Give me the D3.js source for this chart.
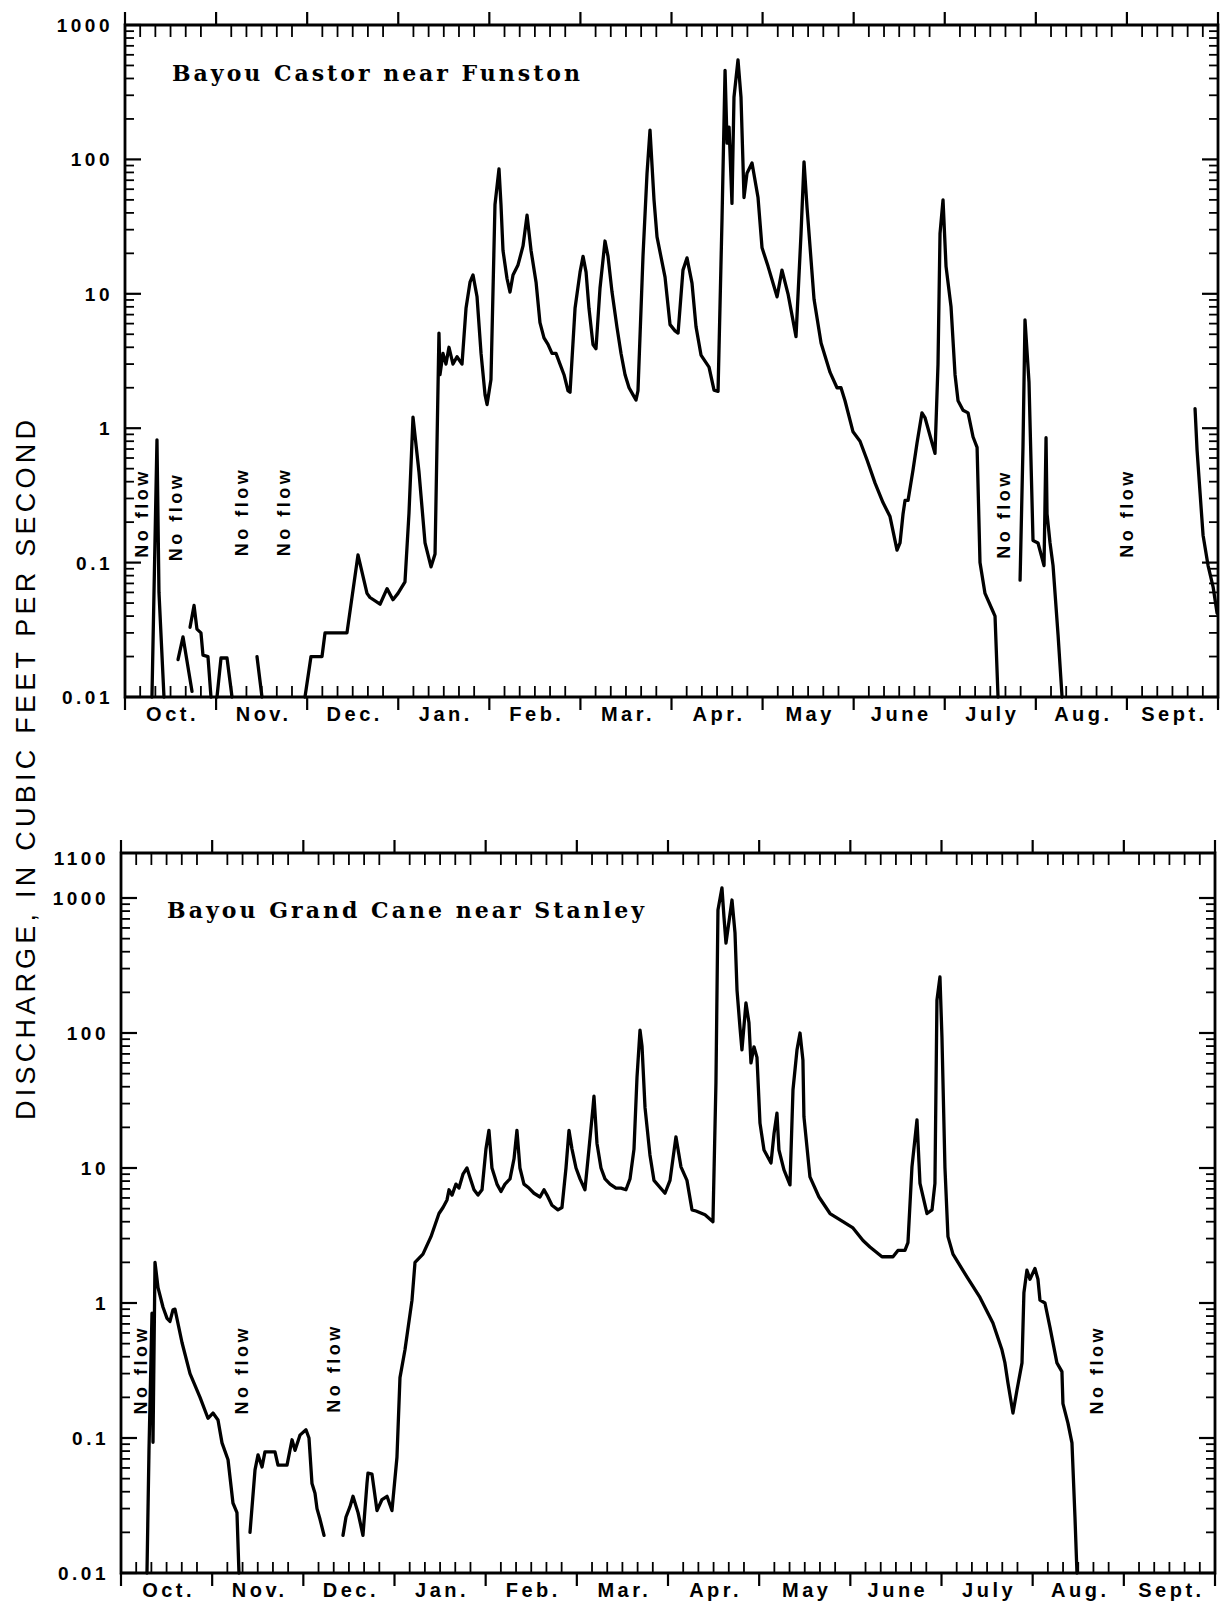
<!DOCTYPE html>
<html><head><meta charset="utf-8">
<script src="https://cdn.jsdelivr.net/npm/d3@7"></script>
<style>body{margin:0;background:#fff}svg{display:block}</style>
</head><body><svg id="c" width="1229" height="1608"></svg>
<script>
// ---------- DATA ----------
// x values: months since Oct 1 (water year, months drawn equal width); y: discharge, cfs
const months = ["Oct.","Nov.","Dec.","Jan.","Feb.","Mar.","Apr.","May","June","July","Aug.","Sept."];
const yTicks = [0.01,0.1,1,10,100,1000];
const yTickLabels = ["0.01","0.1","1","10","100","1000"];
const caneTopLabel = "1100";
const axisTitle = "DISCHARGE, IN CUBIC FEET PER SECOND";
const castorTitle = "Bayou Castor near Funston";
const caneTitle = "Bayou Grand Cane near Stanley";

const castorSegments = [
  [[0.296,0.01],[0.351,0.82],[0.373,0.06],[0.428,0.01]],
  [[0.582,0.019],[0.637,0.028],[0.736,0.011]],
  [[0.714,0.033],[0.758,0.048],[0.790,0.032],[0.834,0.030],[0.856,0.0205],[0.911,0.020],[0.944,0.01]],
  [[1.010,0.01],[1.054,0.0195],[1.120,0.0195],[1.175,0.01]],
  [[1.449,0.02],[1.504,0.01]],
  [[1.976,0.01],[2.042,0.02],[2.163,0.02],[2.196,0.03],[2.437,0.03],[2.558,0.114],[2.657,0.059],[2.690,0.055],[2.800,0.049],[2.877,0.064],[2.942,0.053],[2.997,0.059],[3.074,0.072],[3.118,0.234],[3.162,1.21],[3.228,0.47],[3.294,0.14],[3.360,0.093],[3.404,0.116],[3.447,5.1],[3.458,2.5],[3.491,3.6],[3.524,3.0],[3.557,4.0],[3.601,3.0],[3.645,3.4],[3.700,3.0],[3.744,7.8],[3.788,12.2],[3.821,13.8],[3.865,9.5],[3.909,3.6],[3.953,1.77],[3.975,1.5],[4.018,2.3],[4.062,46],[4.106,85],[4.128,46],[4.150,21],[4.194,13],[4.227,10.3],[4.260,13.8],[4.315,16.4],[4.370,22.7],[4.414,38.5],[4.458,21],[4.513,12.2],[4.556,6.1],[4.600,4.7],[4.644,4.2],[4.688,3.6],[4.732,3.6],[4.776,3.0],[4.820,2.5],[4.864,1.9],[4.886,1.85],[4.941,7.8],[4.996,14.5],[5.029,19],[5.062,14.5],[5.094,7.8],[5.138,4.2],[5.171,3.9],[5.215,11],[5.270,24.7],[5.303,19],[5.347,10.3],[5.402,5.6],[5.446,3.6],[5.490,2.5],[5.534,2.0],[5.578,1.77],[5.610,1.62],[5.632,1.9],[5.687,19],[5.731,78],[5.764,165],[5.808,50],[5.841,26.5],[5.929,13.3],[5.984,5.9],[6.039,5.3],[6.072,5.1],[6.126,15],[6.170,18.5],[6.225,12],[6.269,5.7],[6.324,3.5],[6.412,2.85],[6.467,1.92],[6.511,1.88],[6.555,37],[6.588,460],[6.610,132],[6.632,174],[6.664,47],[6.686,290],[6.730,550],[6.763,290],[6.796,52],[6.829,79],[6.884,94],[6.950,52],[6.994,22],[7.060,16],[7.159,9.5],[7.213,15],[7.279,10],[7.367,4.8],[7.422,28],[7.455,96],[7.488,44],[7.565,9.1],[7.642,4.3],[7.741,2.6],[7.817,2.0],[7.861,2.0],[7.905,1.6],[7.993,0.94],[8.070,0.8],[8.147,0.58],[8.235,0.39],[8.322,0.28],[8.399,0.22],[8.476,0.124],[8.509,0.14],[8.542,0.23],[8.564,0.29],[8.597,0.29],[8.652,0.49],[8.696,0.78],[8.750,1.3],[8.783,1.2],[8.860,0.78],[8.893,0.65],[8.926,3.0],[8.948,28],[8.981,50],[9.014,16],[9.069,8],[9.113,2.5],[9.146,1.6],[9.201,1.36],[9.256,1.3],[9.311,0.86],[9.355,0.72],[9.387,0.1],[9.442,0.059],[9.519,0.045],[9.552,0.040],[9.585,0.01]],
  [[9.827,0.074],[9.859,0.73],[9.881,6.4],[9.925,2.2],[9.969,0.146],[10.024,0.14],[10.090,0.095],[10.112,0.85],[10.123,0.23],[10.156,0.14],[10.189,0.095],[10.244,0.029],[10.288,0.01]],
  [[11.748,1.4],[11.770,0.69],[11.803,0.33],[11.836,0.16],[11.891,0.095],[11.946,0.066],[11.990,0.042]]
];

const caneSegments = [
  [[0.285,0.01],[0.307,0.081],[0.340,0.84],[0.351,0.093],[0.373,2.0],[0.406,1.3],[0.461,0.93],[0.505,0.77],[0.537,0.73],[0.570,0.89],[0.592,0.9],[0.669,0.51],[0.757,0.30],[0.867,0.20],[0.954,0.14],[1.009,0.153],[1.064,0.136],[1.108,0.092],[1.174,0.069],[1.228,0.033],[1.272,0.028],[1.294,0.01]],
  [[1.415,0.020],[1.470,0.058],[1.503,0.075],[1.547,0.061],[1.579,0.079],[1.689,0.079],[1.722,0.063],[1.821,0.063],[1.876,0.097],[1.909,0.081],[1.963,0.105],[2.029,0.115],[2.062,0.10],[2.095,0.046],[2.128,0.039],[2.150,0.030],[2.183,0.025],[2.227,0.019]],
  [[2.435,0.019],[2.468,0.026],[2.512,0.031],[2.545,0.037],[2.600,0.028],[2.654,0.019],[2.698,0.046],[2.709,0.055],[2.753,0.054],[2.808,0.029],[2.863,0.035],[2.918,0.037],[2.972,0.029],[3.027,0.072],[3.060,0.28],[3.115,0.45],[3.192,1.05],[3.225,2.0],[3.312,2.3],[3.400,3.1],[3.488,4.6],[3.532,5.1],[3.576,5.8],[3.598,6.9],[3.631,6.3],[3.674,7.6],[3.707,7.1],[3.751,9.0],[3.795,10],[3.828,8.5],[3.872,6.9],[3.916,6.3],[3.960,6.9],[4.003,13.8],[4.036,19],[4.069,10],[4.124,7.6],[4.168,6.7],[4.212,7.6],[4.267,8.3],[4.311,11.7],[4.343,19],[4.376,10],[4.420,7.6],[4.475,7.1],[4.530,6.5],[4.596,6.1],[4.640,6.9],[4.673,6.3],[4.727,5.3],[4.793,4.9],[4.837,5.1],[4.881,10],[4.914,19],[4.947,13.8],[4.991,10],[5.035,8.3],[5.089,6.9],[5.133,13.8],[5.177,28],[5.188,34],[5.221,15.2],[5.265,10],[5.309,8.3],[5.364,7.6],[5.429,7.1],[5.484,7.1],[5.539,6.9],[5.583,8.3],[5.627,13.8],[5.660,47],[5.693,105],[5.715,80],[5.748,28],[5.802,12.5],[5.846,8.1],[5.967,6.5],[6.022,8.1],[6.087,17],[6.142,10.2],[6.208,8.1],[6.263,4.9],[6.307,4.8],[6.406,4.5],[6.493,4.0],[6.526,43],[6.548,815],[6.592,1190],[6.614,723],[6.636,464],[6.702,966],[6.735,551],[6.757,208],[6.789,111],[6.811,75],[6.855,167],[6.888,119],[6.910,60],[6.943,79],[6.976,66],[7.009,21.5],[7.053,13.6],[7.130,10.9],[7.163,18],[7.195,25.5],[7.217,13.6],[7.272,9.7],[7.338,7.5],[7.371,38],[7.415,75],[7.448,100],[7.480,63],[7.491,24],[7.557,8.6],[7.656,6.1],[7.777,4.6],[7.919,4.0],[8.029,3.6],[8.139,2.9],[8.215,2.6],[8.347,2.2],[8.468,2.2],[8.522,2.45],[8.599,2.45],[8.632,2.8],[8.676,10.2],[8.731,22.7],[8.764,7.7],[8.841,4.6],[8.896,4.9],[8.928,7.7],[8.950,175],[8.983,260],[9.005,93],[9.038,10],[9.071,3.1],[9.126,2.3],[9.279,1.56],[9.422,1.1],[9.564,0.71],[9.663,0.45],[9.696,0.36],[9.729,0.255],[9.784,0.153],[9.828,0.227],[9.883,0.36],[9.904,1.19],[9.937,1.75],[9.970,1.5],[10.025,1.8],[10.058,1.5],[10.080,1.05],[10.135,1.0],[10.190,0.66],[10.266,0.36],[10.321,0.31],[10.332,0.18],[10.387,0.129],[10.431,0.092],[10.464,0.026],[10.486,0.01]]
];

// "No flow" annotations anchored in data units [month position, discharge]
const castorNoFlow = [[0.253,0.234],[0.626,0.22],[1.350,0.24],[1.812,0.24],[9.717,0.23],[11.067,0.234]];
const caneNoFlow = [[0.285,0.32],[1.393,0.32],[2.402,0.33],[10.771,0.32]];

// ---------- LAYOUT ----------
const svg = d3.select("#c");

const panels = [
  {title: castorTitle, segs: castorSegments, noflow: castorNoFlow,
   left:125, right:1218, frameTop:25, yLo:697, yHi:25, titleX:172, titleY:81, titleLen:408, topLabel:null},
  {title: caneTitle, segs: caneSegments, noflow: caneNoFlow,
   left:121, right:1215, frameTop:853, yLo:1573, yHi:898, titleX:167, titleY:918, titleLen:477, topLabel:caneTopLabel}
];

const sans = "'Liberation Sans', Arial, Helvetica, sans-serif";

panels.forEach(p => {
  const x = d3.scaleLinear().domain([0, months.length]).range([p.left, p.right]);
  const y = d3.scaleLog().domain([0.01, 1000]).range([p.yLo, p.yHi]);
  const g = svg.append("g");
  const yb = p.yLo;

  // frame
  g.append("path")
    .attr("d", `M${p.left},${p.frameTop}H${p.right}V${yb}H${p.left}Z`)
    .attr("fill","none").attr("stroke","#000").attr("stroke-width",2.8);

  // month boundary ticks (outside, top and bottom)
  d3.range(months.length + 1).forEach(i => {
    const xx = x(i);
    g.append("line").attr("x1",xx).attr("x2",xx).attr("y1",p.frameTop-13).attr("y2",p.frameTop)
      .attr("stroke","#000").attr("stroke-width",2.2);
    g.append("line").attr("x1",xx).attr("x2",xx).attr("y1",yb).attr("y2",yb+13)
      .attr("stroke","#000").attr("stroke-width",2.2);
  });
  // minor x ticks (inside), 6 divisions per month
  d3.range(months.length).forEach(i => {
    d3.range(1,6).forEach(k => {
      const xx = x(i + k/6);
      g.append("line").attr("x1",xx).attr("x2",xx).attr("y1",yb-11).attr("y2",yb)
        .attr("stroke","#000").attr("stroke-width",1.8);
      g.append("line").attr("x1",xx).attr("x2",xx).attr("y1",p.frameTop).attr("y2",p.frameTop+12)
        .attr("stroke","#000").attr("stroke-width",1.8);
    });
  });

  // month labels
  g.selectAll("text.month").data(months).enter().append("text")
    .attr("x",(d,i)=>x(i+0.5)+2).attr("y",yb+24)
    .attr("text-anchor","middle").attr("font-family",sans).attr("font-weight","bold")
    .attr("font-size",20).attr("letter-spacing",3.5).text(d=>d);

  // y ticks: decades & log minors, inside both sides
  const minors = [];
  for (let e=-2; e<3; e++) for (let m=2; m<=9; m++) minors.push(m*Math.pow(10,e));
  minors.forEach(v => {
    const yy = y(v);
    g.append("line").attr("x1",p.left).attr("x2",p.left+9).attr("y1",yy).attr("y2",yy)
      .attr("stroke","#000").attr("stroke-width",1.8);
    g.append("line").attr("x1",p.right-9).attr("x2",p.right).attr("y1",yy).attr("y2",yy)
      .attr("stroke","#000").attr("stroke-width",1.8);
  });
  yTicks.forEach(v => {
    const yy = y(v);
    g.append("line").attr("x1",p.left).attr("x2",p.left+16).attr("y1",yy).attr("y2",yy)
      .attr("stroke","#000").attr("stroke-width",2.2);
    g.append("line").attr("x1",p.right-16).attr("x2",p.right).attr("y1",yy).attr("y2",yy)
      .attr("stroke","#000").attr("stroke-width",2.2);
  });
  g.selectAll("text.ytl").data(yTicks).enter().append("text")
    .attr("x",p.left-12).attr("y",d=>y(d)).attr("dy","0.37em")
    .attr("text-anchor","end").attr("font-family",sans).attr("font-weight","bold")
    .attr("font-size",19).attr("letter-spacing",3.5)
    .text((d,i)=>yTickLabels[i]);
  if (p.topLabel) {
    g.append("text").attr("x",p.left-12).attr("y",p.frameTop+5).attr("dy","0.37em")
      .attr("text-anchor","end").attr("font-family",sans).attr("font-weight","bold")
      .attr("font-size",19).attr("letter-spacing",3.5).text(p.topLabel);
  }

  // title
  g.append("text").attr("x",p.titleX).attr("y",p.titleY)
    .attr("font-family","'DejaVu Serif', serif").attr("font-weight","bold")
    .attr("font-size",22).attr("textLength",p.titleLen).attr("lengthAdjust","spacing")
    .text(p.title);

  // data lines
  const line = d3.line().x(d=>x(d[0])).y(d=>y(d[1]));
  g.selectAll("path.q").data(p.segs).enter().append("path")
    .attr("d", line).attr("fill","none").attr("stroke","#000")
    .attr("stroke-width",3.3).attr("stroke-linejoin","round").attr("stroke-linecap","round");

  // No flow labels (rotated)
  p.noflow.forEach(d => {
    g.append("text")
      .attr("transform",`translate(${x(d[0])},${y(d[1])}) rotate(-90)`)
      .attr("text-anchor","middle").attr("font-family",sans).attr("font-weight","bold")
      .attr("font-size",18).attr("letter-spacing",3.5).text("No flow");
  });
});

// shared y-axis title
svg.append("text")
  .attr("transform","translate(35,770) rotate(-90)")
  .attr("text-anchor","middle").attr("font-family",sans)
  .attr("font-size",27).attr("textLength",700).attr("lengthAdjust","spacing")
  .text(axisTitle);
</script>
</body></html>
